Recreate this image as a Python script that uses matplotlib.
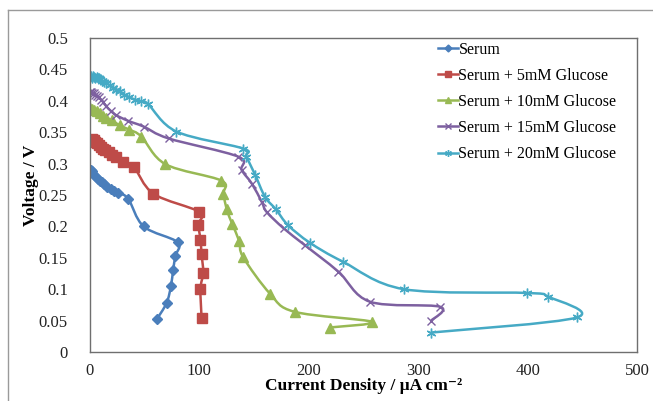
import numpy as np
import matplotlib
matplotlib.use('Agg')
import matplotlib.pyplot as plt
from matplotlib.path import Path
from matplotlib.patches import PathPatch
from matplotlib.lines import Line2D

plt.rcParams['font.family'] = ['Liberation Serif', 'DejaVu Serif']

# current density (uA cm-2) and voltage (V) for each sample
serum_x = [0.5, 1.5, 3, 5, 7, 9, 11, 13, 16, 19, 22, 26, 35, 49, 80, 78, 76, 74, 70, 61]
serum_y = [0.29, 0.288, 0.284, 0.28, 0.276, 0.273, 0.27, 0.267, 0.263, 0.26, 0.257, 0.253,
           0.244, 0.2, 0.175, 0.153, 0.131, 0.105, 0.078, 0.052]

g5_x = [0, 1, 2, 3, 4, 5, 6, 8, 10, 12, 14, 17, 20, 24, 30, 40, 58, 100, 99, 101, 102, 103.5, 101, 102]
g5_y = [0.338, 0.338, 0.339, 0.338, 0.337, 0.335, 0.333, 0.329, 0.326, 0.323, 0.321, 0.318,
        0.314, 0.310, 0.303, 0.295, 0.252, 0.223, 0.203, 0.179, 0.156, 0.126, 0.101, 0.054]

g10_x = [0, 2, 4, 6, 9, 12, 15, 20, 27, 36, 47, 69, 120, 122, 125, 130, 136.5, 140, 164.5, 187, 258, 219]
g10_y = [0.388, 0.387, 0.385, 0.383, 0.38, 0.376, 0.373, 0.369, 0.361, 0.354, 0.343, 0.299,
         0.273, 0.252, 0.227, 0.204, 0.176, 0.151, 0.093, 0.064, 0.048, 0.039]

g15_x = [0, 1, 2, 3.5, 5, 6.5, 8, 10, 12, 15, 19, 24, 35, 49, 72, 135.6, 138.6, 148, 157,
         161.5, 177, 196.5, 227, 256, 320, 312]
g15_y = [0.414, 0.414, 0.413, 0.412, 0.41, 0.408, 0.406, 0.402, 0.398, 0.391, 0.384, 0.377,
         0.368, 0.359, 0.340, 0.311, 0.29, 0.268, 0.239, 0.223, 0.197, 0.17, 0.128, 0.080, 0.072, 0.05]

g20_x = [0, 1, 2, 3, 4, 5, 6, 7, 8, 9, 11, 13, 15, 18, 21, 24, 27, 31, 36, 41, 47, 53, 79,
         140, 143, 151, 160, 170, 181, 201, 231, 287, 399, 419, 445, 312]
g20_y = [0.438, 0.44, 0.437, 0.439, 0.438, 0.436, 0.438, 0.437, 0.436, 0.434, 0.432, 0.43,
         0.428, 0.425, 0.421, 0.418, 0.415, 0.41, 0.406, 0.402, 0.399, 0.395, 0.351, 0.324,
         0.311, 0.282, 0.247, 0.227, 0.202, 0.174, 0.144, 0.1, 0.094, 0.088, 0.055, 0.031]

labels = ['Serum', 'Serum + 5mM Glucose', 'Serum + 10mM Glucose',
          'Serum + 15mM Glucose', 'Serum + 20mM Glucose']


def smooth_path(x, y):
    # excel style smoothed line: catmull-rom turned into bezier segments
    p = np.column_stack([x, y]).astype(float)
    verts = [p[0]]
    codes = [Path.MOVETO]
    n = len(p)
    for i in range(n - 1):
        p0 = p[i - 1] if i > 0 else p[i]
        p3 = p[i + 2] if i + 2 < n else p[i + 1]
        c1 = p[i] + (p[i + 1] - p0) / 6
        c2 = p[i + 1] - (p3 - p[i]) / 6
        verts += [c1, c2, p[i + 1]]
        codes += [Path.CURVE4] * 3
    return Path(verts, codes)


fig = plt.figure(figsize=(6.53, 4.01), dpi=100)
ax = fig.add_axes([0.1378, 0.1222, 0.8377, 0.783])

series = [
    (serum_x, serum_y, '#4A7EBB', 'D', 5),
    (g5_x, g5_y, '#BE4B48', 's', 7),
    (g10_x, g10_y, '#98B954', '^', 7),
    (g15_x, g15_y, '#7D60A0', 'x', 6),
    (g20_x, g20_y, '#46AAC5', (6, 2, 0), 7),
]

for (x, y, c, m, ms), lab in zip(series, labels):
    ax.add_patch(PathPatch(smooth_path(x, y), fill=False, edgecolor=c, lw=1.8,
                           capstyle='round', joinstyle='round'))
    ax.plot(x, y, ls='none', marker=m, ms=ms, color=c, mec=c, mew=1.0)

handles = [Line2D([], [], color=c, marker=m, ms=ms * 0.7, lw=1.8, mew=1.0)
           for (x, y, c, m, ms) in series]
ax.legend(handles, labels, loc='upper left', bbox_to_anchor=(0.624, 1.008), frameon=False,
          fontsize=11.5, handlelength=1.25, handletextpad=0.05, labelspacing=0.63,
          borderaxespad=0)

ax.set_xlim(0, 500)
ax.set_ylim(0, 0.5)
ax.set_xticks([0, 100, 200, 300, 400, 500])
ax.set_yticks(np.arange(0, 0.501, 0.05))
ax.set_yticklabels(['0', '0.05', '0.1', '0.15', '0.2', '0.25', '0.3', '0.35', '0.4', '0.45', '0.5'])
ax.tick_params(length=0, labelsize=12, colors='#222222')
ax.tick_params(axis='y', pad=16)
ax.tick_params(axis='x', pad=8)
for s in ax.spines.values():
    s.set_color('#6f6f6f')
    s.set_linewidth(1.0)

ax.set_xlabel('Current Density / μA cm⁻²', fontsize=12.5, fontweight='bold', labelpad=-1)
ax.set_ylabel('Voltage / V', fontsize=12.5, fontweight='bold')
ax.yaxis.set_label_coords(-0.093, 0.53)

# outer chart border
fig.add_artist(Line2D([8 / 653, 8 / 653], [0, 1 - 10 / 401], color='#9a9a9a', lw=1.0))
fig.add_artist(Line2D([8 / 653, 1], [1 - 10 / 401, 1 - 10 / 401], color='#9a9a9a', lw=1.0))

fig.savefig('out.png', dpi=100)
